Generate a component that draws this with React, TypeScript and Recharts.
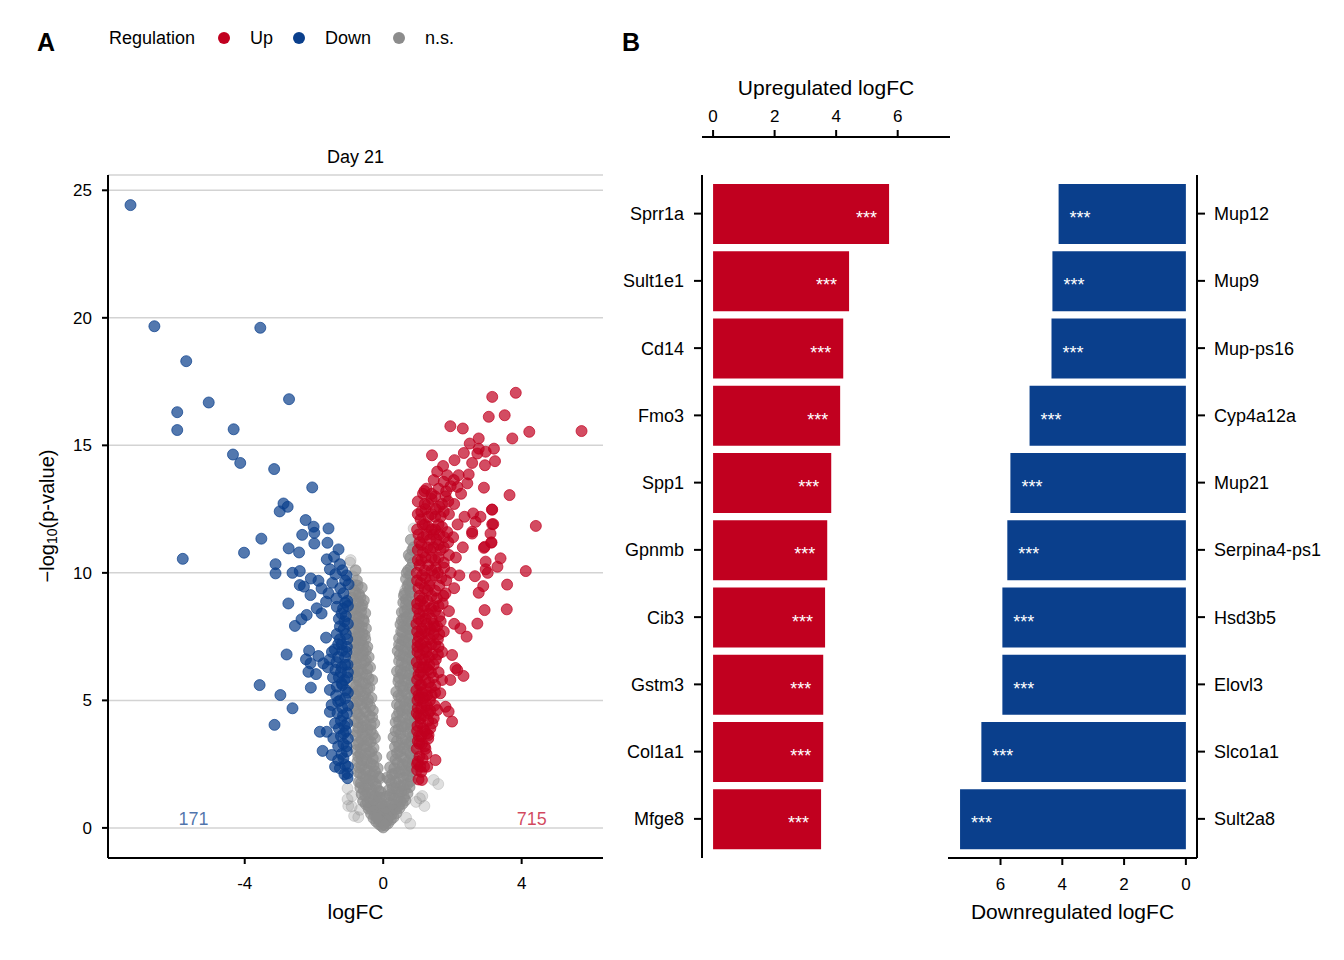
import React from 'react';
import {
    ScatterChart,
    Scatter,
    XAxis,
    YAxis,
    CartesianGrid,
    BarChart,
    Bar,
    LabelList
} from 'recharts';

const FONT = '"Liberation Sans", Arial, Helvetica, sans-serif';
const UP = '#C1001F';
const DOWN = '#0A3F8C';
const NS = '#8C8C8C';

// ---- panel A: volcano points [logFC, -log10(p)] ----
const downPoints = [
    [-7.30, 24.42], [-6.61, 19.67], [-3.55, 19.61], [-5.69, 18.30], [-5.04, 16.68], [-2.72, 16.81],
    [-5.95, 16.30], [-5.95, 15.60], [-4.32, 15.63], [-4.34, 14.64], [-4.13, 14.31], [-3.15, 14.07],
    [-2.05, 13.35], [-2.88, 12.72], [-2.76, 12.59], [-2.99, 12.41], [-2.24, 12.07], [-2.01, 11.81],
    [-1.58, 11.74], [-2.34, 11.49], [-1.99, 11.57], [-1.99, 11.15], [-1.61, 11.18], [-3.52, 11.34],
    [-4.02, 10.79], [-5.79, 10.55], [-2.73, 10.96], [-2.43, 10.80], [-1.29, 10.92], [-1.63, 10.53],
    [-1.42, 10.63], [-1.25, 10.34], [-3.11, 10.34], [-3.11, 9.98], [-2.62, 10.00], [-2.41, 10.07],
    [-1.54, 10.14], [-1.38, 9.95], [-2.09, 9.78], [-1.87, 9.69], [-1.47, 9.61], [-1.00, 9.55],
    [-2.41, 9.52], [-2.29, 9.46], [-1.78, 9.39], [-2.10, 9.13], [-1.58, 9.20], [-2.74, 8.80],
    [-1.65, 8.87], [-1.10, 8.83], [-1.92, 8.61], [-1.78, 8.41], [-1.34, 8.67], [-1.20, 8.40],
    [-1.12, 8.10], [-1.25, 7.90], [-1.08, 7.60], [-2.21, 8.35], [-2.36, 8.18], [-2.55, 7.92],
    [-1.65, 7.46], [-1.30, 7.20], [-1.18, 6.95], [-1.05, 7.10], [-1.40, 7.00], [-2.79, 6.80],
    [-2.14, 6.95], [-2.23, 6.61], [-2.10, 6.45], [-1.87, 6.74], [-1.73, 6.45], [-2.16, 6.12],
    [-1.94, 6.03], [-1.55, 6.60], [-1.35, 6.50], [-1.20, 6.30], [-1.10, 6.70], [-1.02, 6.10],
    [-3.57, 5.60], [-2.97, 5.21], [-2.62, 4.69], [-3.14, 4.04], [-2.09, 5.50], [-1.54, 5.41],
    [-1.34, 5.54], [-1.20, 5.67], [-1.54, 4.55], [-1.49, 4.82], [-1.30, 4.95], [-1.10, 5.08],
    [-1.83, 3.77], [-1.63, 3.77], [-1.44, 3.51], [-1.39, 4.10], [-1.75, 3.02], [-1.49, 2.86],
    [-1.39, 2.40], [-1.25, 2.34], [-1.10, 2.47], [-1.03, 2.14], [-1.03, 1.95], [-1.30, 2.66],
    [-1.15, 2.73], [-1.05, 3.00], [-1.15, 3.30], [-1.08, 3.80], [-1.22, 4.20], [-1.05, 4.50],
    [-1.18, 4.70], [-1.02, 5.30], [-1.28, 5.90], [-1.12, 5.80], [-1.03, 6.40], [-1.38, 6.20],
    [-1.45, 5.90], [-1.25, 7.40], [-1.08, 8.30], [-1.04, 8.90], [-1.15, 9.20], [-1.35, 9.00],
    [-1.06, 9.90], [-1.18, 10.10], [-1.60, 6.30], [-1.48, 6.90], [-1.22, 3.60], [-1.12, 4.00],
    [-1.02, 2.40], [-1.12, 2.10], [-1.20, 2.90], [-1.06, 3.20], [-1.30, 3.20], [-1.02, 3.50],
    [-1.14, 3.70], [-1.28, 3.90], [-1.04, 4.10], [-1.16, 4.40], [-1.32, 4.50], [-1.02, 4.80],
    [-1.24, 5.00], [-1.08, 5.40], [-1.36, 5.20], [-1.18, 5.60], [-1.04, 5.90], [-1.22, 6.10],
    [-1.10, 6.40], [-1.30, 6.70], [-1.06, 6.90], [-1.20, 7.20], [-1.04, 7.40], [-1.34, 7.60],
    [-1.14, 7.80], [-1.02, 8.00], [-1.28, 8.20], [-1.16, 8.60], [-1.02, 8.70], [-1.24, 9.40],
    [-1.10, 9.70]
];

const upPoints = [
    [3.15, 16.90], [3.83, 17.06], [3.05, 16.12], [3.51, 16.18], [1.94, 15.75], [2.30, 15.66],
    [4.22, 15.53], [5.73, 15.56], [3.73, 15.27], [2.76, 15.27], [2.50, 15.07], [2.76, 14.87],
    [3.20, 14.87], [2.96, 14.75], [2.72, 14.68], [1.41, 14.61], [2.33, 14.70], [2.06, 14.42],
    [2.57, 14.31], [2.94, 14.22], [3.23, 14.38], [1.73, 14.19], [1.56, 13.97], [1.85, 13.83],
    [2.47, 13.86], [2.18, 13.83], [2.91, 13.34], [3.65, 13.05], [1.19, 13.21], [1.46, 13.64],
    [1.75, 13.57], [2.04, 13.64], [2.43, 13.51], [2.14, 13.37], [3.15, 12.48], [4.41, 11.84],
    [2.81, 12.20], [2.67, 12.00], [3.15, 11.91], [2.57, 11.61], [3.10, 11.54], [2.93, 11.02],
    [3.12, 11.19], [3.39, 10.57], [3.30, 10.24], [2.96, 10.44], [2.96, 10.14], [4.12, 10.07],
    [2.65, 9.87], [2.89, 9.48], [3.58, 9.54], [2.76, 9.22], [3.02, 10.00], [2.93, 8.54],
    [3.57, 8.57], [2.72, 8.01], [2.23, 7.82], [2.41, 7.50], [1.99, 6.78], [2.14, 6.19],
    [1.94, 5.80], [1.70, 5.80], [1.65, 5.28], [1.80, 4.75], [1.89, 4.56], [1.99, 4.17],
    [1.56, 4.62], [1.46, 4.30], [1.31, 3.64], [1.51, 2.66], [1.27, 2.40], [1.07, 2.40],
    [0.98, 2.27], [1.12, 1.88], [2.32, 5.96], [2.09, 6.27],
    [1.02, 1.90], [1.10, 2.20], [0.98, 2.50], [1.18, 2.40], [1.05, 2.80], [1.25, 2.90],
    [0.97, 3.10], [1.12, 3.30], [1.30, 3.50], [1.03, 3.60], [1.20, 3.80], [0.99, 4.00],
    [1.42, 4.10], [1.08, 4.30], [1.31, 4.50], [1.00, 4.70], [1.15, 4.90], [1.48, 4.80],
    [1.05, 5.10], [1.27, 5.20], [0.96, 5.40], [1.38, 5.50], [1.10, 5.60], [1.22, 5.80],
    [1.02, 6.00], [1.45, 5.90], [1.60, 6.10], [1.14, 6.30], [0.97, 6.50], [1.33, 6.40],
    [1.52, 6.60], [1.06, 6.80], [1.25, 6.90], [1.70, 6.90], [0.99, 7.10], [1.40, 7.20],
    [1.18, 7.30], [1.58, 7.40], [1.03, 7.50], [1.30, 7.60], [1.12, 7.80], [0.96, 8.00],
    [1.48, 7.90], [1.75, 7.70], [1.22, 8.20], [1.05, 8.40], [1.62, 8.30], [1.38, 8.60],
    [0.98, 8.80], [1.90, 8.50], [1.15, 9.00], [1.55, 9.00], [1.28, 9.30], [1.02, 9.40],
    [1.80, 9.20], [2.05, 9.40], [2.05, 8.00], [1.45, 8.00], [1.08, 9.60], [1.35, 9.70],
    [1.68, 9.80], [0.97, 10.00], [1.20, 10.10], [1.52, 10.20], [1.95, 10.00], [2.20, 9.90],
    [1.10, 10.50], [1.40, 10.60], [1.75, 10.40], [2.10, 10.60], [1.00, 10.90], [1.28, 11.00],
    [1.60, 11.10], [1.88, 11.20], [2.30, 11.00], [1.15, 11.40], [1.45, 11.50], [2.02, 11.40],
    [0.98, 11.70], [1.30, 11.80], [1.70, 11.80], [2.15, 11.90], [1.08, 12.10], [1.50, 12.20],
    [1.90, 12.30], [2.35, 12.20], [1.22, 12.50], [1.62, 12.60], [2.05, 12.70], [1.00, 12.80],
    [1.40, 12.90], [1.80, 13.00], [2.25, 13.10], [1.15, 13.10], [1.60, 13.30], [1.95, 13.40],
    [2.60, 12.33], [3.18, 11.91], [3.14, 12.48], [2.91, 10.98], [3.13, 11.19], [2.57, 11.54],
    [1.04, 3.30], [1.22, 3.10], [1.15, 3.90], [1.36, 3.90], [1.02, 4.40], [1.24, 4.60],
    [1.12, 5.30], [1.35, 5.00], [1.50, 5.30], [1.08, 6.10], [1.30, 6.20], [1.20, 6.60],
    [1.42, 6.80], [1.00, 7.30], [1.26, 7.10], [1.50, 7.20], [1.10, 7.60], [1.36, 7.80],
    [1.62, 7.60], [1.02, 8.20], [1.30, 8.40], [1.50, 8.50], [1.18, 8.70], [1.72, 8.80],
    [1.40, 9.10], [1.05, 9.10], [1.62, 9.50], [1.22, 9.80], [1.48, 9.90], [1.82, 9.70],
    [1.05, 10.30], [1.30, 10.30], [1.60, 10.60], [1.90, 10.70], [1.15, 10.80], [1.45, 11.00],
    [1.75, 11.00], [1.05, 11.20], [1.35, 11.30], [1.62, 11.50], [1.85, 11.60], [1.20, 11.90],
    [1.50, 11.70], [1.40, 12.30], [1.75, 12.40], [1.10, 12.40], [1.30, 12.70], [1.88, 12.80],
    [1.50, 13.00], [1.25, 13.30],
    [1.00, 2.60], [1.14, 2.70], [1.20, 3.20], [1.00, 3.40], [1.10, 3.60], [1.26, 3.70],
    [0.98, 3.80], [1.08, 4.10], [1.30, 4.20], [1.18, 4.40], [0.97, 4.50], [1.36, 4.60],
    [1.10, 4.70], [1.26, 4.80], [0.99, 5.00], [1.18, 5.10], [1.40, 5.20], [1.02, 5.20],
    [1.22, 5.40], [1.50, 5.60], [1.06, 5.60], [1.32, 5.70], [0.98, 5.80], [1.16, 6.00],
    [1.38, 6.10], [1.24, 6.30], [1.02, 6.30], [1.46, 6.40], [1.12, 6.60], [1.32, 6.70],
    [1.58, 6.80], [0.99, 6.90], [1.16, 7.00], [1.60, 7.10], [1.34, 7.40], [1.08, 7.20],
    [1.46, 7.60], [1.20, 7.70], [0.98, 7.70], [1.56, 7.90], [1.26, 8.00], [1.10, 8.10],
    [1.40, 8.20], [1.66, 8.10], [1.16, 8.50], [0.99, 8.60], [1.46, 8.70], [1.28, 8.90],
    [1.60, 8.70], [1.08, 8.90], [1.74, 9.10], [1.50, 9.30], [1.20, 9.40], [1.34, 9.50],
    [0.98, 9.70], [1.12, 9.90], [1.58, 10.00], [1.40, 10.10], [1.76, 10.20], [1.00, 10.50],
    [1.22, 10.60], [1.50, 10.50], [1.66, 10.90], [1.36, 10.90], [1.10, 11.10], [1.54, 11.30],
    [1.26, 11.50], [1.02, 11.50], [1.76, 11.40], [1.40, 11.70], [1.60, 11.90], [1.14, 11.90],
    [1.30, 12.20], [1.66, 12.20], [1.00, 12.30], [1.52, 12.50], [1.20, 12.70], [1.70, 12.70],
    [1.40, 13.10], [1.82, 13.20]
];

// dense, non-significant core of the V
const nsPoints = [
    [0.00, 0.02], [-0.05, 0.08], [0.06, 0.10], [-0.12, 0.15], [0.14, 0.18], [-0.02, 0.22],
    [0.09, 0.28], [-0.20, 0.25], [0.22, 0.32], [-0.08, 0.35], [0.03, 0.40], [-0.28, 0.38],
    [0.30, 0.42], [-0.16, 0.45], [0.17, 0.48], [-0.35, 0.55], [0.38, 0.58], [-0.04, 0.60],
    [0.10, 0.62], [-0.22, 0.68], [0.26, 0.70], [-0.42, 0.75], [0.47, 0.78], [-0.10, 0.80],
    [0.05, 0.85], [-0.30, 0.88], [0.34, 0.90], [-0.50, 0.93], [0.56, 0.95], [0.18, 0.98],
    [-0.17, 1.00], [-0.58, 1.05], [0.64, 1.08], [-0.38, 1.12], [0.42, 1.15], [-0.06, 1.18],
    [0.08, 1.22], [-0.25, 1.25], [0.28, 1.28], [-0.62, 1.32], [0.70, 1.35], [-0.46, 1.38],
    [0.52, 1.42], [-0.14, 1.45], [0.16, 1.48], [-0.34, 1.52], [0.38, 1.55], [-0.66, 1.58],
    [0.76, 1.60], [-0.52, 1.65], [0.60, 1.68], [-0.22, 1.72], [0.24, 1.75], [-0.70, 1.80],
    [0.80, 1.84], [-0.40, 1.88], [0.44, 1.92], [-0.10, 1.95], [0.12, 1.98], [-0.58, 2.02],
    [0.68, 2.06], [-0.30, 2.10], [0.34, 2.14], [-0.72, 2.18], [0.84, 2.22], [-0.46, 2.26],
    [0.52, 2.30], [-0.16, 2.34], [0.20, 2.38], [-0.62, 2.42], [0.74, 2.46], [-0.36, 2.52],
    [0.42, 2.56], [-0.74, 2.60], [0.86, 2.64], [-0.50, 2.70], [0.60, 2.74], [-0.20, 2.78],
    [0.26, 2.82], [-0.66, 2.88], [0.78, 2.92], [-0.40, 2.96], [0.48, 3.00], [-0.78, 3.05],
    [0.88, 3.10], [-0.28, 3.14], [0.34, 3.18], [-0.56, 3.24], [0.66, 3.28], [-0.70, 3.34],
    [0.82, 3.38], [-0.44, 3.44], [0.54, 3.48], [-0.24, 3.52], [0.30, 3.56], [-0.80, 3.62],
    [0.88, 3.66], [-0.60, 3.72], [0.72, 3.76], [-0.36, 3.82], [0.44, 3.86], [-0.72, 3.92],
    [0.62, 3.96], [-0.50, 4.02], [0.80, 4.06], [-0.26, 4.10], [0.36, 4.14], [-0.82, 4.20],
    [0.90, 4.24], [-0.64, 4.30], [0.56, 4.34], [-0.40, 4.40], [0.70, 4.44], [-0.76, 4.50],
    [0.46, 4.54], [-0.30, 4.60], [0.86, 4.64], [-0.56, 4.70], [0.62, 4.74], [-0.84, 4.80],
    [0.40, 4.84], [-0.46, 4.90], [0.76, 4.94], [-0.68, 5.00], [0.92, 5.04], [-0.34, 5.10],
    [0.52, 5.14], [-0.80, 5.20], [0.68, 5.24], [-0.52, 5.30], [0.38, 5.34], [-0.72, 5.40],
    [0.84, 5.44], [-0.40, 5.50], [0.58, 5.54], [-0.86, 5.60], [0.94, 5.64], [-0.60, 5.70],
    [0.44, 5.74], [-0.32, 5.80], [0.72, 5.84], [-0.76, 5.90], [0.88, 5.94], [-0.48, 6.00],
    [0.54, 6.04], [-0.84, 6.10], [0.40, 6.14], [-0.64, 6.20], [0.80, 6.24], [-0.38, 6.30],
    [0.62, 6.34], [-0.78, 6.40], [0.92, 6.44], [-0.54, 6.50], [0.46, 6.54], [-0.86, 6.60],
    [0.74, 6.64], [-0.42, 6.70], [0.58, 6.74], [-0.70, 6.80], [0.86, 6.84], [-0.58, 6.90],
    [0.42, 6.94], [-0.82, 7.00], [0.70, 7.04], [-0.46, 7.10], [0.52, 7.14], [-0.68, 7.20],
    [0.88, 7.24], [-0.86, 7.30], [0.60, 7.34], [-0.52, 7.40], [0.46, 7.44], [-0.74, 7.50],
    [0.78, 7.54], [-0.60, 7.62], [0.56, 7.66], [-0.88, 7.72], [0.84, 7.76], [-0.50, 7.82],
    [0.66, 7.86], [-0.70, 7.94], [0.50, 7.98], [-0.84, 8.06], [0.74, 8.10], [-0.58, 8.18],
    [0.60, 8.22], [-0.76, 8.30], [0.86, 8.34], [-0.52, 8.42], [0.54, 8.46], [-0.88, 8.54],
    [0.70, 8.58], [-0.64, 8.66], [0.80, 8.70], [-0.78, 8.80], [0.58, 8.84], [-0.56, 8.92],
    [0.66, 8.96], [-0.90, 9.02], [0.84, 9.06], [-0.70, 9.16], [0.62, 9.20], [-0.84, 9.30],
    [0.76, 9.34], [-0.62, 9.42], [0.70, 9.48], [0.82, 9.62], [-0.76, 9.70],
    [0.66, 9.76], [0.78, 9.92], [-0.80, 10.10], [0.72, 10.10],
    [0.86, 10.40], [0.74, 10.70], [0.88, 11.00], [0.80, 11.30],
    [-0.24, 0.50], [0.24, 0.52], [-0.12, 0.58], [0.16, 0.66], [-0.32, 0.72], [0.36, 0.74],
    [-0.02, 0.74], [0.08, 0.78], [-0.40, 0.84], [0.44, 0.86], [-0.20, 0.92], [0.26, 0.94],
    [-0.06, 0.96], [0.12, 0.30], [-0.10, 0.28], [0.02, 0.16], [-0.18, 0.40],
    [-0.45, 1.02], [0.50, 1.04], [-0.28, 1.10], [0.32, 1.12], [-0.12, 1.20], [0.60, 1.20],
    [-0.52, 1.28], [0.20, 1.30], [-0.32, 1.36], [0.44, 1.40], [-0.08, 1.42], [0.62, 1.50],
    [-0.56, 1.50], [0.28, 1.56], [-0.20, 1.62], [0.50, 1.64], [-0.44, 1.70], [0.70, 1.72],
    [-0.64, 1.76], [0.36, 1.80], [-0.30, 1.84], [0.18, 1.88], [-0.50, 1.94], [0.58, 1.96],
    [-0.14, 2.00], [0.76, 2.02], [-0.38, 2.06], [0.26, 2.10], [-0.66, 2.14], [0.46, 2.18],
    [-0.24, 2.22], [0.64, 2.26], [-0.54, 2.30], [0.32, 2.34], [-0.70, 2.38], [0.82, 2.40],
    [-0.28, 2.44], [0.56, 2.48], [-0.46, 2.56], [0.70, 2.58], [-0.62, 2.66], [0.36, 2.68],
    [-0.30, 2.72], [0.52, 2.78], [-0.72, 2.80], [0.84, 2.84], [-0.52, 2.90], [0.40, 2.94],
    [-0.34, 3.00], [0.70, 3.04], [-0.64, 3.10], [0.58, 3.14], [-0.48, 3.20], [0.46, 3.22],
    [-0.76, 3.28], [0.76, 3.32], [-0.36, 3.38], [0.40, 3.40], [-0.62, 3.46], [0.64, 3.50],
    [-0.52, 3.58], [0.84, 3.60], [-0.30, 3.66], [0.50, 3.70], [-0.74, 3.76], [0.36, 3.80],
    [-0.46, 3.86], [0.80, 3.90], [-0.60, 3.96], [0.54, 3.98], [-0.36, 4.05], [0.66, 4.08],
    [-0.74, 4.14], [0.46, 4.18], [-0.56, 4.24], [0.78, 4.28], [-0.32, 4.34], [0.40, 4.38],
    [-0.70, 4.44], [0.86, 4.48], [-0.50, 4.56], [0.54, 4.60], [-0.80, 4.66], [0.68, 4.70],
    [-0.38, 4.76], [0.48, 4.78], [-0.62, 4.86], [0.84, 4.88], [-0.76, 4.96], [0.60, 4.98],
    [-0.44, 5.04], [0.74, 5.08], [-0.58, 5.16], [0.44, 5.18], [-0.84, 5.26], [0.90, 5.28],
    [-0.66, 5.36], [0.58, 5.38], [-0.46, 5.46], [0.76, 5.48], [-0.78, 5.56], [0.50, 5.58],
    [-0.52, 5.66], [0.82, 5.68], [-0.70, 5.76], [0.62, 5.78], [-0.42, 5.86], [0.46, 5.88],
    [-0.80, 5.96], [0.76, 5.98], [-0.60, 6.06], [0.66, 6.08], [-0.72, 6.16], [0.50, 6.18],
    [-0.46, 6.26], [0.88, 6.28], [-0.82, 6.36], [0.70, 6.38], [-0.64, 6.46], [0.54, 6.48],
    [-0.50, 6.58], [0.82, 6.58], [-0.76, 6.66], [0.64, 6.68], [-0.60, 6.76], [0.48, 6.78],
    [-0.84, 6.86], [0.78, 6.88], [-0.50, 6.96], [0.60, 6.98], [-0.72, 7.06], [0.84, 7.08],
    [-0.58, 7.16], [0.46, 7.18], [-0.80, 7.26], [0.72, 7.28], [-0.64, 7.36], [0.56, 7.38],
    [-0.78, 7.46], [0.66, 7.48], [-0.54, 7.56], [0.86, 7.58], [-0.70, 7.68], [0.52, 7.70],
    [-0.82, 7.78], [0.72, 7.80], [-0.62, 7.88], [0.58, 7.90], [-0.76, 8.00], [0.80, 8.02],
    [-0.56, 8.10], [0.54, 8.14], [-0.70, 8.24], [0.68, 8.26], [-0.86, 8.36], [0.76, 8.38],
    [-0.64, 8.48], [0.62, 8.50], [-0.80, 8.60], [0.84, 8.62], [-0.60, 8.74], [0.66, 8.76],
    [-0.72, 8.88], [0.74, 8.90], [-0.66, 9.04], [0.60, 9.10], [-0.80, 9.20], [0.80, 9.24],
    [-0.74, 9.50], [0.74, 9.58], [0.68, 10.00], [0.80, 10.20], [0.78, 10.60], [0.84, 10.90]
];

// scattered non-significant points around the edges of the V
const nsSparsePoints = [
    [-1.03, 1.55], [-1.03, 1.12], [-0.91, 0.84], [-0.67, 0.71], [1.46, 1.88], [1.06, 1.16],
    [-0.90, 1.25], [-1.01, 0.86], [-0.84, 0.47], [1.19, 0.86], [1.59, 1.72], [0.78, 0.16],
    [1.13, 1.25], [-0.81, 9.52], [-0.96, 9.13], [0.64, 9.33], [-0.94, 10.50], [-0.96, 10.40],
    [0.88, 11.74], [-0.92, 9.56], [-0.88, 9.86], [0.95, 1.02], [-0.72, 0.42], [0.66, 0.40]
];

const countLabels = [
    { x: -5.48, y: 0, text: '171', color: DOWN },
    { x: 4.29, y: 0, text: '715', color: UP }
];

const volcanoXTicks = [-4, 0, 4];
const volcanoYTicks = [0, 5, 10, 15, 20, 25];

// ---- panel B: top genes ----
const upGenes = ['Sprr1a', 'Sult1e1', 'Cd14', 'Fmo3', 'Spp1', 'Gpnmb', 'Cib3', 'Gstm3', 'Col1a1', 'Mfge8'];
const upLogFC = [5.72, 4.42, 4.23, 4.13, 3.84, 3.71, 3.64, 3.58, 3.58, 3.51];
const upSig = ['***', '***', '***', '***', '***', '***', '***', '***', '***', '***'];

const downGenes = ['Mup12', 'Mup9', 'Mup-ps16', 'Cyp4a12a', 'Mup21', 'Serpina4-ps1', 'Hsd3b5', 'Elovl3', 'Slco1a1', 'Sult2a8'];
const downLogFC = [4.12, 4.32, 4.35, 5.06, 5.68, 5.78, 5.94, 5.94, 6.62, 7.31];
const downSig = ['***', '***', '***', '***', '***', '***', '***', '***', '***', '***'];

const barTicks = [0, 2, 4, 6];

const toXY = (pts: number[][]) => pts.map(([x, y]) => ({ x, y }));
const upBars = upGenes.map((gene, i) => ({ gene, logFC: upLogFC[i], sig: upSig[i] }));
const downBars = downGenes.map((gene, i) => ({ gene, logFC: downLogFC[i], sig: downSig[i] }));

const axisStroke = { stroke: '#000', strokeWidth: 2 };

const dot = (color: string, opacity: number) => (props: any) => (
    <circle
        cx={props.cx}
        cy={props.cy}
        r={5.5}
        fill={color}
        fillOpacity={opacity}
        stroke={color}
        strokeOpacity={opacity}
        strokeWidth={1}
    />
);

const countText = (props: any) => (
    <text
        x={props.cx}
        y={props.cy - 3}
        textAnchor="middle"
        fontSize={18}
        fontFamily={FONT}
        fill={props.payload.color}
        fillOpacity={0.72}
    >
        {props.payload.text}
    </text>
);

const YLabel = () => (
    <text
        transform="translate(47,516) rotate(-90)"
        textAnchor="middle"
        dominantBaseline="central"
        fontSize={20}
        fontFamily={FONT}
        fill="#000"
    >
        −log
        <tspan fontSize={14} dy={5}>10</tspan>
        <tspan dy={-5}>(p-value)</tspan>
    </text>
);

const upStars = (props: any) => {
    const { x, y, width, height, value } = props;
    const right = Math.max(x, x + width);
    return (
        <text x={right - 12} y={y + height / 2 + 10} textAnchor="end" fontSize={18} fontFamily={FONT} fill="#fff">
            {value}
        </text>
    );
};

const downStars = (props: any) => {
    const { x, y, width, height, value } = props;
    const left = Math.min(x, x + width);
    return (
        <text x={left + 11} y={y + height / 2 + 10} textAnchor="start" fontSize={18} fontFamily={FONT} fill="#fff">
            {value}
        </text>
    );
};

const abs = (left: number, top: number): React.CSSProperties => ({ position: 'absolute', left, top });

const text = (left: number, top: number, size: number, extra: React.CSSProperties = {}): React.CSSProperties => ({
    position: 'absolute',
    left,
    top,
    fontSize: size,
    lineHeight: `${size + 4}px`,
    whiteSpace: 'nowrap',
    color: '#000',
    ...extra
});

const legendDot = (left: number, color: string): React.CSSProperties => ({
    position: 'absolute',
    left: left - 6,
    top: 32,
    width: 12,
    height: 12,
    borderRadius: 6,
    background: color
});

export default function App() {
    return (
        <div style={{ position: 'absolute', left: 0, top: 0, width: 1344, height: 960, background: '#fff', fontFamily: FONT }}>
            {/* panel letters, legend, facet title */}
            <div style={text(37, 28, 25, { fontWeight: 700 })}>A</div>
            <div style={text(622, 28, 25, { fontWeight: 700 })}>B</div>
            <div style={text(109, 27, 18)}>Regulation</div>
            <div style={legendDot(224, UP)} />
            <div style={text(250, 27, 18)}>Up</div>
            <div style={legendDot(299, DOWN)} />
            <div style={text(325, 27, 18)}>Down</div>
            <div style={legendDot(399, NS)} />
            <div style={text(425, 27, 18)}>n.s.</div>
            <div style={text(108, 146, 18, { width: 495, textAlign: 'center' })}>Day 21</div>

            {/* A: volcano */}
            <div style={abs(0, 0)}>
                <ScatterChart width={620} height={940} margin={{ top: 175, right: 17, bottom: 12, left: 48 }}>
                    <CartesianGrid vertical={false} stroke="#D3D3D3" strokeWidth={1.5} />
                    <XAxis
                        type="number"
                        dataKey="x"
                        domain={[-7.95, 6.35]}
                        ticks={volcanoXTicks}
                        allowDataOverflow
                        height={70}
                        axisLine={axisStroke}
                        tickLine={axisStroke}
                        tickSize={6}
                        tickMargin={13}
                        tick={{ fill: '#000', fontSize: 17, fontFamily: FONT }}
                        label={{ value: 'logFC', position: 'insideBottom', offset: 9, fill: '#000', fontSize: 21, fontFamily: FONT }}
                    />
                    <YAxis
                        type="number"
                        dataKey="y"
                        domain={[-1.18, 25.6]}
                        ticks={volcanoYTicks}
                        allowDataOverflow
                        width={60}
                        axisLine={axisStroke}
                        tickLine={axisStroke}
                        tickSize={6}
                        tickMargin={10}
                        tick={{ fill: '#000', fontSize: 17, fontFamily: FONT }}
                        label={{ content: () => <YLabel /> }}
                    />
                    <Scatter name="n.s." data={toXY(nsPoints)} shape={dot(NS, 0.68)} isAnimationActive={false} />
                    <Scatter name="n.s. (edge)" data={toXY(nsSparsePoints)} shape={dot(NS, 0.28)} isAnimationActive={false} />
                    <Scatter name="Down" data={toXY(downPoints)} shape={dot(DOWN, 0.7)} isAnimationActive={false} />
                    <Scatter name="Up" data={toXY(upPoints)} shape={dot(UP, 0.7)} isAnimationActive={false} />
                    <Scatter data={countLabels} shape={countText} isAnimationActive={false} />
                </ScatterChart>
            </div>

            {/* B: upregulated, top axis only */}
            <div style={abs(0, 0)}>
                <BarChart width={960} height={140} data={upBars} layout="vertical" margin={{ top: 60, right: 10, bottom: 0, left: 702 }}>
                    <XAxis
                        type="number"
                        orientation="top"
                        domain={[-0.36, 7.7]}
                        ticks={barTicks}
                        allowDataOverflow
                        height={77}
                        axisLine={axisStroke}
                        tickLine={axisStroke}
                        tickSize={7}
                        tickMargin={8}
                        tick={{ fill: '#000', fontSize: 17, fontFamily: FONT }}
                        label={{ value: 'Upregulated logFC', position: 'insideTop', offset: 20, fill: '#000', fontSize: 21, fontFamily: FONT }}
                    />
                    <YAxis type="category" dataKey="gene" hide />
                </BarChart>
            </div>

            {/* B: upregulated bars */}
            <div style={abs(0, 0)}>
                <BarChart width={960} height={940} data={upBars} layout="vertical" margin={{ top: 175, right: 10, bottom: 82, left: 602 }}>
                    <XAxis type="number" domain={[-0.36, 7.7]} allowDataOverflow hide />
                    <YAxis
                        type="category"
                        dataKey="gene"
                        width={100}
                        padding={{ top: 5, bottom: 5.5 }}
                        axisLine={axisStroke}
                        tickLine={axisStroke}
                        tickSize={8}
                        tickMargin={10}
                        tick={{ fill: '#000', fontSize: 18, fontFamily: FONT }}
                    />
                    <Bar dataKey="logFC" fill={UP} barSize={60} isAnimationActive={false}>
                        <LabelList dataKey="sig" content={upStars} />
                    </Bar>
                </BarChart>
            </div>

            {/* B: downregulated bars */}
            <div style={abs(0, 0)}>
                <BarChart width={1344} height={940} data={downBars} layout="vertical" margin={{ top: 175, right: 0, bottom: 12, left: 948 }}>
                    <XAxis
                        type="number"
                        domain={[-0.36, 7.7]}
                        ticks={barTicks}
                        reversed
                        allowDataOverflow
                        height={70}
                        axisLine={axisStroke}
                        tickLine={axisStroke}
                        tickSize={7}
                        tickMargin={13}
                        tick={{ fill: '#000', fontSize: 17, fontFamily: FONT }}
                        label={{ value: 'Downregulated logFC', position: 'insideBottom', offset: 9, fill: '#000', fontSize: 21, fontFamily: FONT }}
                    />
                    <YAxis
                        type="category"
                        dataKey="gene"
                        orientation="right"
                        width={147}
                        padding={{ top: 5, bottom: 5.5 }}
                        axisLine={axisStroke}
                        tickLine={axisStroke}
                        tickSize={8}
                        tickMargin={9}
                        tick={{ fill: '#000', fontSize: 18, fontFamily: FONT, textAnchor: 'start' }}
                    />
                    <Bar dataKey="logFC" fill={DOWN} barSize={60} isAnimationActive={false}>
                        <LabelList dataKey="sig" content={downStars} />
                    </Bar>
                </BarChart>
            </div>
        </div>
    );
}
